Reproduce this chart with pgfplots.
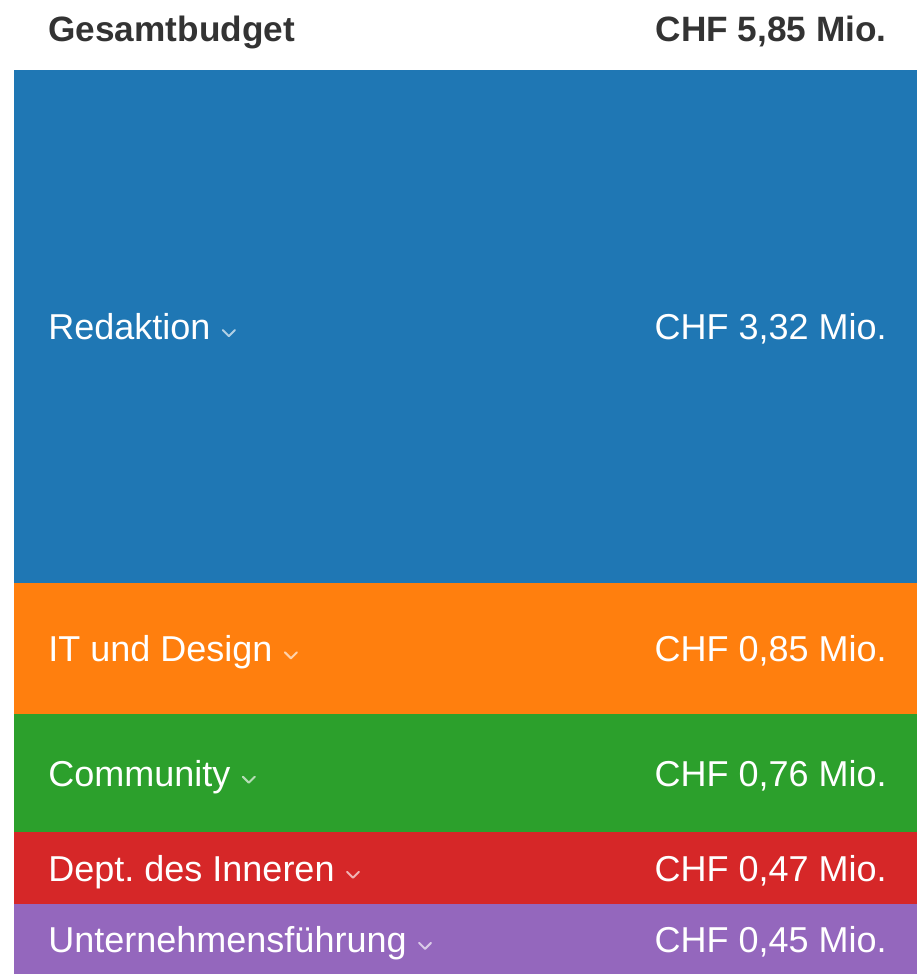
\documentclass[border=0pt]{standalone}
\usepackage{fontspec}
\setmainfont{Liberation Sans}
\usepackage{pgfplots}
\pgfplotsset{compat=1.18}
\definecolor{cblue}{HTML}{1F77B4}
\definecolor{corange}{HTML}{FF7F0E}
\definecolor{cgreen}{HTML}{2CA02C}
\definecolor{cred}{HTML}{D62728}
\definecolor{cpurple}{HTML}{9467BD}
\definecolor{hdr}{HTML}{333333}
\frenchspacing
\tikzset{
  lbl/.style={anchor=west, text=white, inner sep=0pt, text height=12.9pt, text depth=0pt, font=\fontsize{18}{20}\selectfont, xshift=17pt},
  val/.style={anchor=east, text=white, inner sep=0pt, text height=12.9pt, text depth=0pt, font=\fontsize{18}{20}\selectfont, xshift=-15pt},
  chev/.style={draw=white, draw opacity=0.65, line width=1pt, line cap=round, line join=round}
}
\begin{document}
\begin{tikzpicture}
\begin{axis}[
  at={(0,0)}, anchor=south west,
  scale only axis, width=451.5pt, height=452pt,
  hide axis, ybar stacked, bar width=1, y dir=reverse,
  xmin=-0.5, xmax=0.5, ymin=0, ymax=5.85,
  clip=false,
]
\addplot[fill=cblue, draw=none] coordinates {(0,3.32)};
\addplot[fill=corange, draw=none] coordinates {(0,0.85)};
\addplot[fill=cgreen, draw=none] coordinates {(0,0.76)};
\addplot[fill=cred, draw=none] coordinates {(0,0.47)};
\addplot[fill=cpurple, draw=none] coordinates {(0,0.45)};
\coordinate (a1) at (axis cs:-0.5,1.66);
\coordinate (a2) at (axis cs:-0.5,3.745);
\coordinate (a3) at (axis cs:-0.5,4.55);
\coordinate (a4) at (axis cs:-0.5,5.165);
\coordinate (a5) at (axis cs:-0.5,5.625);
\coordinate (b1) at (axis cs:0.5,1.66);
\coordinate (b2) at (axis cs:0.5,3.745);
\coordinate (b3) at (axis cs:0.5,4.55);
\coordinate (b4) at (axis cs:0.5,5.165);
\coordinate (b5) at (axis cs:0.5,5.625);
\end{axis}
\node[lbl] (l1) at (a1) {Redaktion};
\node[lbl] (l2) at (a2) {IT und Design};
\node[lbl] (l3) at (a3) {Community};
\node[lbl] (l4) at (a4) {Dept.\ des Inneren};
\node[lbl] (l5) at (a5) {Unternehmensführung};
\node[val] at (b1) {CHF 3,32 Mio.};
\node[val] at (b2) {CHF 0,85 Mio.};
\node[val] at (b3) {CHF 0,76 Mio.};
\node[val] at (b4) {CHF 0,47 Mio.};
\node[val] at (b5) {CHF 0,45 Mio.};
\foreach \n in {l1,l2,l3,l4,l5}{
  \draw[chev] ([xshift=6pt,yshift=-1.8pt]\n.east) -- ++(3pt,-3pt) -- ++(3pt,3pt);
}
\node[anchor=base west, text=hdr, inner sep=0pt, font=\fontsize{17.6}{20}\selectfont\bfseries] at ([xshift=17pt,yshift=14pt]current axis.north west) {Gesamtbudget};
\node[anchor=base east, text=hdr, inner sep=0pt, font=\fontsize{17.6}{20}\selectfont\bfseries] at ([xshift=-15pt,yshift=14pt]current axis.north east) {CHF 5,85 Mio.};
\path[use as bounding box] ([xshift=-7pt]current axis.south west) rectangle ([yshift=35pt]current axis.north east);
\end{tikzpicture}
\end{document}
